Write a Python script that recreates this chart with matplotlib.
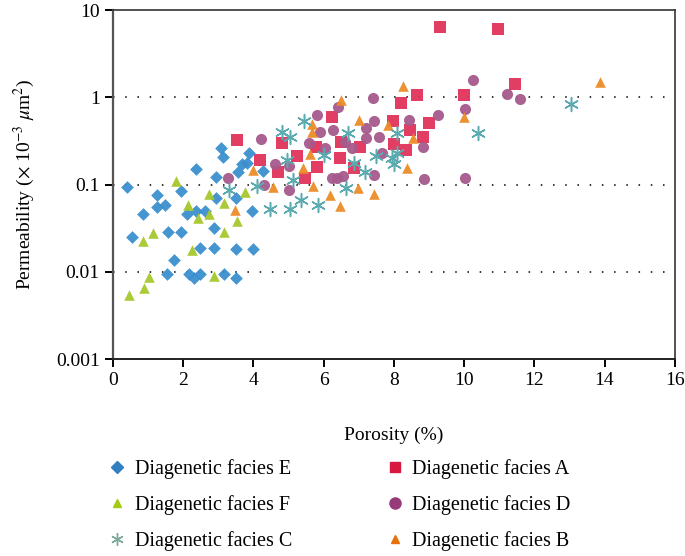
import matplotlib
matplotlib.use('Agg')
from matplotlib import pyplot as plt
from matplotlib.lines import Line2D

plt.rcParams['font.family'] = ['Liberation Serif', 'DejaVu Serif']
plt.rcParams['mathtext.fontset'] = 'stix'

# porosity (%) and permeability (1e-3 um^2) per diagenetic facies
e_por = [0.39, 0.53, 0.84, 1.26, 1.26, 1.48, 1.56, 1.54, 1.74, 1.95, 1.95, 2.12, 2.15, 2.31,
         2.35, 2.35, 2.48, 2.49, 2.61, 2.88, 2.88, 2.93, 2.93, 3.07, 3.14, 3.16, 3.49, 3.49,
         3.49, 3.56, 3.66, 3.83, 3.87, 3.97, 3.99, 4.26]
e_perm = [0.093, 0.025, 0.046, 0.077, 0.055, 0.059, 0.029, 0.0095, 0.0137, 0.085, 0.029, 0.046,
          0.0095, 0.0085, 0.050, 0.150, 0.0095, 0.019, 0.050, 0.032, 0.019, 0.070, 0.121, 0.265,
          0.206, 0.0095, 0.070, 0.0185, 0.0085, 0.138, 0.174, 0.175, 0.232, 0.050, 0.0185, 0.145]

f_por = [0.46, 0.87, 1.03, 0.85, 1.15, 1.79, 2.13, 2.24, 2.43, 2.72, 2.74, 2.88, 3.16, 3.17,
         3.54, 3.76]
f_perm = [0.0054, 0.0065, 0.0088, 0.0226, 0.0277, 0.11, 0.058, 0.018, 0.041, 0.079, 0.046,
          0.009, 0.061, 0.029, 0.038, 0.083]

c_por = [3.29, 4.09, 4.47, 4.8, 5.04, 4.95, 5.04, 5.14, 5.35, 5.44, 5.85, 6.0, 6.65, 6.7,
         6.85, 7.18, 7.5, 7.95, 8.0, 8.1, 8.08, 10.4, 13.05]
c_perm = [0.087, 0.097, 0.052, 0.40, 0.35, 0.19, 0.052, 0.113, 0.067, 0.53, 0.058, 0.22,
          0.091, 0.39, 0.175, 0.14, 0.21, 0.2, 0.17, 0.23, 0.39, 0.39, 0.83]

a_por = [3.52, 4.19, 4.71, 4.8, 5.23, 5.47, 5.78, 5.8, 6.25, 6.47, 6.5, 6.85, 7.04, 7.97,
         7.99, 8.2, 8.35, 8.46, 8.65, 8.82, 9.0, 10.0, 11.46, 9.32, 10.96]
a_perm = [0.32, 0.19, 0.138, 0.30, 0.21, 0.118, 0.27, 0.16, 0.60, 0.20, 0.31, 0.154, 0.27,
          0.53, 0.29, 0.85, 0.25, 0.42, 1.06, 0.354, 0.51, 1.06, 1.41, 6.35, 6.0]

d_por = [3.27, 4.22, 4.3, 4.62, 5.0, 5.0, 5.59, 5.8, 5.9, 6.04, 6.23, 6.27, 6.37, 6.42, 6.56,
         6.61, 6.8, 7.21, 7.21, 7.4, 7.44, 7.44, 7.59, 7.66, 8.44, 8.82, 8.86, 9.27, 10.03,
         10.03, 10.25, 11.21, 11.6]
d_perm = [0.118, 0.33, 0.099, 0.172, 0.165, 0.087, 0.30, 0.63, 0.40, 0.26, 0.118, 0.42, 0.12,
          0.78, 0.125, 0.31, 0.26, 0.44, 0.34, 0.97, 0.54, 0.129, 0.35, 0.23, 0.55, 0.27, 0.115,
          0.63, 0.73, 0.118, 1.58, 1.08, 0.95]

b_por = [3.47, 3.98, 4.57, 5.4, 5.61, 5.66, 5.66, 5.69, 6.18, 6.47, 6.48, 6.99, 7.0, 7.44,
         7.82, 8.25, 8.36, 8.55, 10.0, 13.87]
b_perm = [0.051, 0.147, 0.095, 0.154, 0.224, 0.40, 0.50, 0.096, 0.076, 0.057, 0.93, 0.091,
          0.55, 0.078, 0.48, 1.35, 0.154, 0.34, 0.60, 1.49]

x_ticks = [0, 2, 4, 6, 8, 10, 12, 14, 16]
y_ticks = [0.001, 0.01, 0.1, 1, 10]
y_labels = ['0.001', '0.01', '0.1', '1', '10']

fig = plt.figure(figsize=(6.85, 5.56), dpi=100)
ax = fig.add_axes([0.165, 0.354, 0.82, 0.628])

for v in y_ticks[1:-1]:
    ax.axhline(v, color='black', lw=1.1, ls=(0, (1, 7)), zorder=1)

ax.scatter(a_por, a_perm, marker='s', s=64, color='#e1325a', alpha=0.95, lw=0, zorder=3)
ax.scatter(d_por, d_perm, marker='o', s=64, color='#a55a8c', alpha=0.95, lw=0, zorder=3)
ax.scatter(b_por, b_perm, marker='^', s=58, color='#eb8c28', alpha=0.95, lw=0, zorder=3)
ax.scatter(c_por, c_perm, marker=(6, 2, 0), s=100, color='#5aaab0', lw=1.1, zorder=3)
ax.scatter(e_por, e_perm, marker='D', s=42, color='#3b8fcf', alpha=0.95, lw=0, zorder=3)
ax.scatter(f_por, f_perm, marker='^', s=58, color='#a7c82c', alpha=0.95, lw=0, zorder=3)

ax.set_yscale('log')
ax.set_xlim(0, 16)
ax.set_ylim(0.001, 10)
ax.set_xticks(x_ticks)
ax.set_yticks(y_ticks)
ax.set_yticklabels(y_labels)
ax.minorticks_off()
ax.tick_params(labelsize=14, length=5.5, width=1.4, color='black', pad=4)

for side in ['top', 'right']:
    ax.spines[side].set_color('#333333')
    ax.spines[side].set_linewidth(1.2)
ax.spines['left'].set_color('#555555')
ax.spines['left'].set_linewidth(1.6)
ax.spines['bottom'].set_color('#222222')
ax.spines['bottom'].set_linewidth(1.4)

ax.set_xlabel('Porosity (%)', fontsize=14, labelpad=27)
ax.set_ylabel(r'Permeability ($\times$ 10$^{-3}$ $\mu$m$^{2}$)', fontsize=14, labelpad=14)

handles = [
    Line2D([], [], ls='', marker='D', ms=6, color='#2f7fc1'),
    Line2D([], [], ls='', marker='^', ms=6, color='#a3cc12'),
    Line2D([], [], ls='', marker=(6, 2, 0), ms=9, mew=1, color='#7aa89a'),
    Line2D([], [], ls='', marker='s', ms=7, color='#d7193f'),
    Line2D([], [], ls='', marker='o', ms=8, color='#973a7a'),
    Line2D([], [], ls='', marker='^', ms=6, color='#e8700a'),
]
labels = ['Diagenetic facies E', 'Diagenetic facies F', 'Diagenetic facies C',
          'Diagenetic facies A', 'Diagenetic facies D', 'Diagenetic facies B']
fig.legend(handles, labels, loc='upper left', bbox_to_anchor=(0.142, 0.192), ncol=2,
           frameon=False, fontsize=14.5, handlelength=1.0, handletextpad=0.35,
           labelspacing=0.8, columnspacing=4.6, borderpad=0)

fig.savefig('out.png', dpi=100)
